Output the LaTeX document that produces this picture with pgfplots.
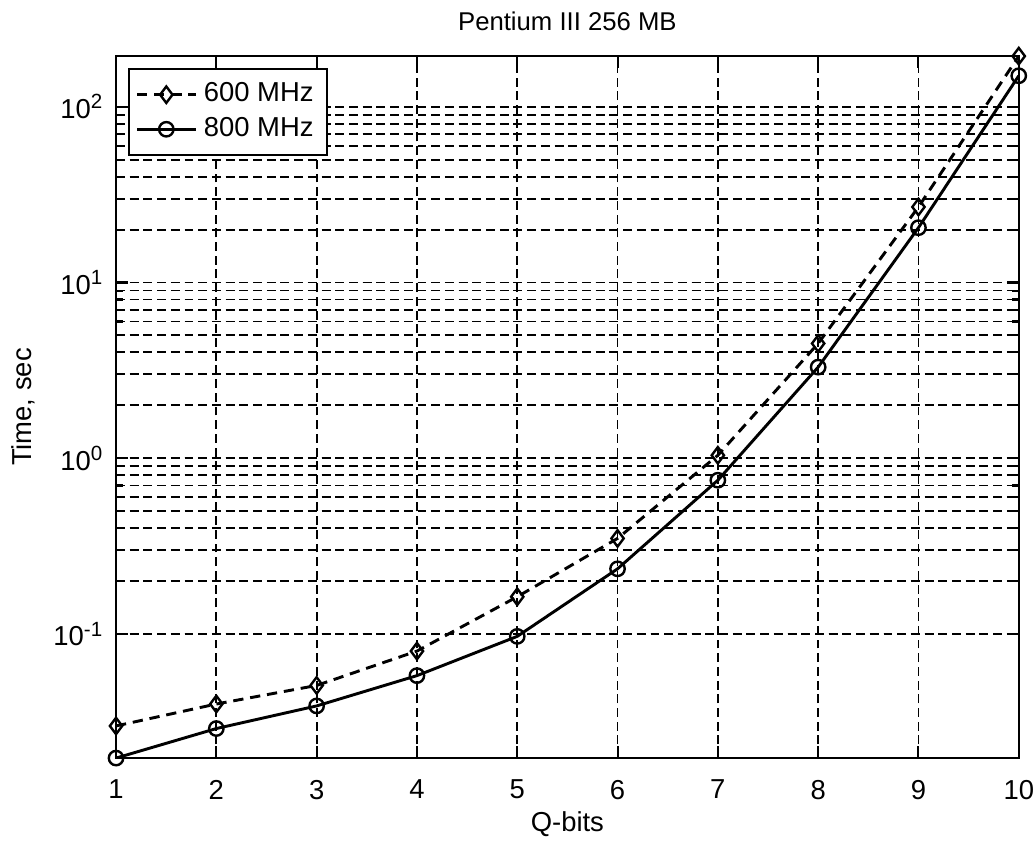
\documentclass[border=0pt]{standalone}
\usepackage{pgfplots}
\usepackage{fontspec}
\setmainfont{Liberation Sans}
\pgfplotsset{compat=1.18}

\begin{document}
\begin{tikzpicture}
\begin{axis}[
    scale only axis,
    width=9.26cm,
    height=7.2cm,
    ymode=log,
    xmin=1, xmax=10,
    ymin=0.0197, ymax=194,
    xtick={1,...,10},
    ytick={0.1,1,10,100},
    yticklabels={10\textsuperscript{-1},10\textsuperscript{0},10\textsuperscript{1},10\textsuperscript{2}},
    /pgf/number format/assume math mode=true,
    tick align=inside,
    major tick length=0.12cm,
    minor tick length=0.07cm,
    grid=both,
    major grid style={black, line width=0.55pt, dash pattern=on 2.6pt off 1.4pt},
    minor grid style={black, line width=0.55pt, dash pattern=on 2.6pt off 1.4pt},
    axis line style={line width=0.6pt},
    every tick/.style={black, line width=0.6pt},
    tick label style={font=\fontsize{8}{9.6}\selectfont},
    xticklabel style={inner xsep=0pt, yshift=-0.1cm},
    title={Pentium III 256 MB},
    title style={font=\fontsize{7.5}{9}\selectfont, yshift=-0.07cm},
    xlabel={Q-bits},
    ylabel={Time, sec},
    label style={font=\fontsize{8}{9.6}\selectfont},
    xlabel style={yshift=0.12cm},
    ylabel style={yshift=-0.05cm},
    legend style={at={(0,1)}, anchor=north west, xshift=0.12cm, yshift=-0.12cm,
        draw=black, line width=0.6pt, font=\fontsize{8}{9.6}\selectfont,
        row sep=-1pt, inner sep=2pt},
    legend cell align=left,
]
\addplot[black, line width=0.85pt, dash pattern=on 3pt off 2pt, mark=diamond, mark size=2.4pt,
    mark options={solid, line width=0.7pt}] coordinates {
    (1, 0.030) (2, 0.040) (3, 0.051) (4, 0.080) (5, 0.163) (6, 0.35)
    (7, 1.04) (8, 4.5) (9, 26.9) (10, 194)
};
\addplot[black, line width=0.85pt, mark=o, mark size=2.1pt,
    mark options={solid, line width=0.7pt}] coordinates {
    (1, 0.0197) (2, 0.029) (3, 0.039) (4, 0.058) (5, 0.097) (6, 0.235)
    (7, 0.75) (8, 3.3) (9, 20.5) (10, 150)
};
\legend{600 MHz, 800 MHz}
\end{axis}
\end{tikzpicture}
\end{document}
